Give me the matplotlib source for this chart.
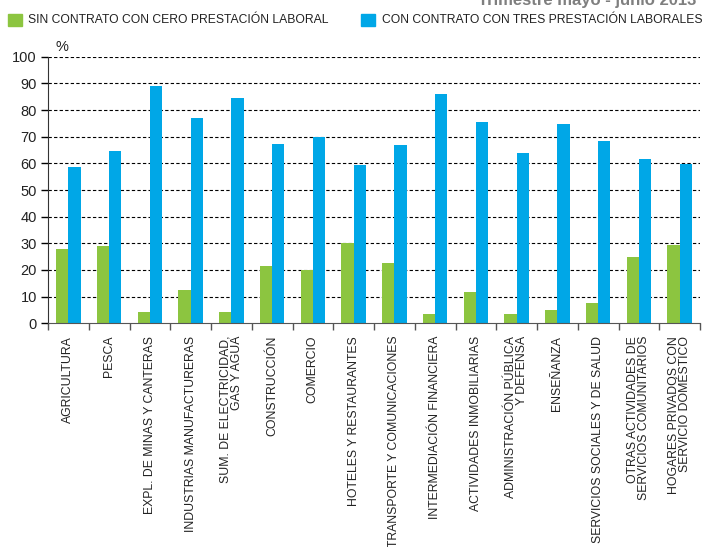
import matplotlib
matplotlib.use('Agg')
from matplotlib import pyplot as plt
import numpy as np

# data
categorias = [
    'AGRICULTURA', 'PESCA', 'EXPL. DE MINAS Y CANTERAS',
    'INDUSTRIAS MANUFACTURERAS', 'SUM. DE ELECTRICIDAD,\nGAS Y AGUA',
    'CONSTRUCCIÓN', 'COMERCIO', 'HOTELES Y RESTAURANTES',
    'TRANSPORTE Y COMUNICACIONES', 'INTERMEDIACIÓN FINANCIERA',
    'ACTIVIDADES INMOBILIARIAS', 'ADMINISTRACIÓN PÚBLICA\nY DEFENSA',
    'ENSEÑANZA', 'SERVICIOS SOCIALES Y DE SALUD',
    'OTRAS ACTIVIDADES DE\nSERVICIOS COMUNITARIOS',
    'HOGARES PRIVADOS CON\nSERVICIO DOMÉSTICO',
]
sin_contrato = [27.9, 29.0, 4.2, 12.5, 4.2, 21.5, 20.1, 30.1,
                22.6, 3.5, 11.7, 3.5, 5.0, 7.6, 24.9, 29.4]
con_contrato = [58.6, 64.6, 89.0, 77.0, 84.5, 67.2, 70.0, 59.4,
                66.9, 86.0, 75.5, 63.9, 74.8, 68.4, 61.6, 59.8]
y_ticks = list(range(0, 101, 10))

serie_verde = 'SIN CONTRATO CON CERO PRESTACIÓN LABORAL'
serie_azul = 'CON CONTRATO CON TRES PRESTACIÓN LABORALES'
titulo = 'Trimestre mayo - junio 2013'

VERDE = '#8cc540'
AZUL = '#00a7e7'

plt.rcParams['font.family'] = ['Liberation Sans', 'DejaVu Sans']

fig = plt.figure(figsize=(7.03, 5.47), dpi=100)
ax = fig.add_axes([48 / 703, 1 - 323.3 / 547, (700 - 48) / 703, (323.3 - 56.7) / 547])

x = np.arange(len(categorias))
w = 0.3
ax.bar(x - w / 2, sin_contrato, w, color=VERDE, zorder=3)
ax.bar(x + w / 2, con_contrato, w, color=AZUL, zorder=3)

ax.set_xlim(-0.5, len(categorias) - 0.5)
ax.set_ylim(0, 100)
ax.set_yticks(y_ticks)
ax.tick_params(axis='y', labelsize=10.5, length=5, width=1, direction='out', pad=3,
               labelcolor='#222222')
for yv in y_ticks[1:]:
    ax.axhline(yv, color='black', lw=0.8, ls=(0, (3, 2)), zorder=1)

ax.set_xticks(x)
ax.set_xticklabels(categorias, rotation=90, fontsize=8.8, va='top', ha='center',
                   multialignment='right', linespacing=0.9, color='#222222')
ax.set_xticks(np.arange(-0.5, len(categorias), 1), minor=True)
ax.tick_params(axis='x', which='major', length=0, pad=9)
ax.tick_params(axis='x', which='minor', length=5, width=1, color='#555555', direction='out')

for s in ['top', 'right']:
    ax.spines[s].set_visible(False)
ax.spines['left'].set_color('#333333')
ax.spines['bottom'].set_color('#555555')
ax.spines['bottom'].set_zorder(4)

ax.text(62 / 703, 1 - 47 / 547, '%', transform=fig.transFigure, fontsize=10.5,
        ha='center', va='center', color='#222222')

# legend drawn by hand at the top
fig.patches.append(plt.Rectangle((8 / 703, 1 - 26 / 547), 14 / 703, 12 / 547,
                                 transform=fig.transFigure, color=VERDE))
fig.text(28 / 703, 1 - 20 / 547, serie_verde, fontsize=8.7, va='center', ha='left',
         color='#222222')
fig.patches.append(plt.Rectangle((361 / 703, 1 - 26 / 547), 14 / 703, 12 / 547,
                                 transform=fig.transFigure, color=AZUL))
fig.text(382 / 703, 1 - 20 / 547, serie_azul, fontsize=8.7, va='center', ha='left',
         color='#222222')

# title partly cut off at the top edge
fig.text(696 / 703, 1 - 5 / 547, titulo, fontsize=12, fontweight='bold',
         color='#7f7f7f', ha='right', va='baseline')

plt.savefig('out.png', dpi=100)
